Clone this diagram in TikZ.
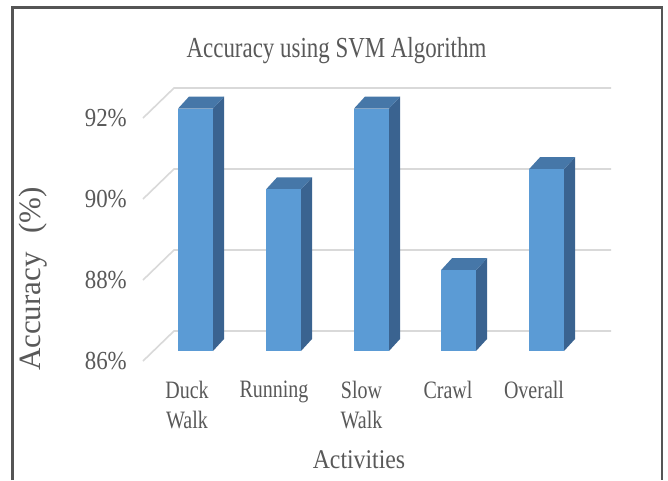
\documentclass[tikz,border=0pt]{standalone}
\usepackage{fontspec}
\usepackage{graphicx}
\setmainfont{Liberation Serif}
\definecolor{txtgray}{HTML}{595959}
\definecolor{gridgray}{HTML}{D9D9D9}
\definecolor{barfront}{HTML}{5B9BD5}
\definecolor{barside}{HTML}{3A6390}
\definecolor{bartop}{HTML}{4677A8}
\definecolor{framegray}{HTML}{555555}
% narrow setting of the chart texts
\newcommand{\narrow}[2]{\scalebox{#1}[1]{#2}}
\begin{document}
\begin{tikzpicture}[x=1pt,y=-1pt,
  lbl/.style={text=txtgray,inner sep=0pt},
  gridln/.style={draw=gridgray,line width=1.6pt},
  ticklbl/.style={lbl,anchor=east,font=\fontsize{26}{30}\selectfont},
  catlbl/.style={lbl,anchor=north,align=center,font=\fontsize{25}{30}\selectfont}]
\useasboundingbox (0,0) rectangle (668,480);
\fill[white] (0,0) rectangle (668,480);
% outer frame (open at the bottom)
\draw[framegray,line width=2.2pt] (12.5,480) -- (12.5,7.5) -- (662,7.5) -- (662,480);

% title
\node[lbl,anchor=base,font=\fontsize{29}{34}\selectfont] (title) at (336.5,57) {\narrow{0.79}{Accuracy using SVM Algorithm}};

% back wall gridlines with their floor diagonals, and tick labels
\foreach \v/\yb/\name in {92/88/g92, 90/169/g90, 88/250/g88, 86/331/g86} {
  \coordinate (\name f) at (143,\yb+30);
  \coordinate (\name b) at (174,\yb);
  \coordinate (\name e) at (611,\yb);
  \draw[gridln] (\name f) -- (\name b) -- (\name e);
  \node[ticklbl] (\name l) at (127,\yb+30) {\narrow{0.88}{\v\%}};
}

% 3-D columns: left edge of front face / value
\foreach \L/\v/\name in {178/92/duck, 266/90/run, 354/92/slow, 441/88/crawl, 529/90.5/all} {
  \pgfmathsetmacro{\T}{351-(\v-86)*40.4}
  \fill[barside] (\L+35,351) -- (\L+35,\T) -- (\L+46,\T-12) -- (\L+46,339) -- cycle;
  \fill[bartop] (\L,\T) -- (\L+11,\T-12) -- (\L+46,\T-12) -- (\L+35,\T) -- cycle;
  \fill[barfront] (\L,\T) rectangle (\L+35,351);
  \coordinate (\name) at (\L+17.5,351);
}

% category labels
\node[catlbl] (c1) at (187,381) {\narrow{0.8}{Duck}\\\narrow{0.8}{Walk}};
\node[catlbl] (c2) at (274,381) {\narrow{0.8}{Running}};
\node[catlbl] (c3) at (361.5,381) {\narrow{0.8}{Slow}\\\narrow{0.8}{Walk}};
\node[catlbl] (c4) at (448,381) {\narrow{0.8}{Crawl}};
\node[catlbl] (c5) at (534,381) {\narrow{0.8}{Overall}};

% axis titles
\node[lbl,anchor=base,font=\fontsize{27}{32}\selectfont] (xt) at (359,468) {\narrow{0.88}{Activities}};
\node[lbl,rotate=90,font=\fontsize{31}{36}\selectfont] (yt) at (33,279) {Accuracy\hspace{0.6em}(\%)};
\end{tikzpicture}
\end{document}
